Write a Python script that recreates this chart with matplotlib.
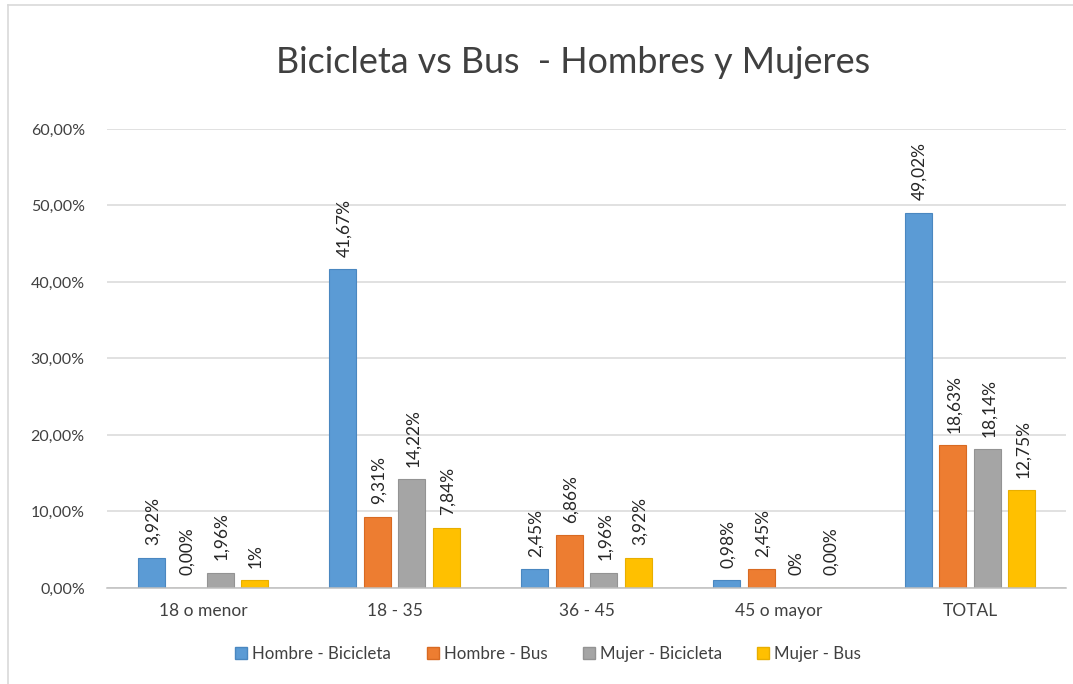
import matplotlib.pyplot as plt
import matplotlib.patches as mpatches
from matplotlib.ticker import FuncFormatter
import numpy as np

plt.rcParams['font.family'] = ['Lato', 'DejaVu Sans']

# ---------------- data ----------------
categorias = ['18 o menor', '18 - 35', '36 - 45', '45 o mayor', 'TOTAL']
series = ['Hombre - Bicicleta', 'Hombre - Bus', 'Mujer - Bicicleta', 'Mujer - Bus']
hombre_bici = [3.92, 41.67, 2.45, 0.98, 49.02]
hombre_bus = [0.00, 9.31, 6.86, 2.45, 18.63]
mujer_bici = [1.96, 14.22, 1.96, 0.00, 18.14]
mujer_bus = [1.00, 7.84, 3.92, 0.00, 12.75]
etiquetas = [
    ['3,92%', '41,67%', '2,45%', '0,98%', '49,02%'],
    ['0,00%', '9,31%', '6,86%', '2,45%', '18,63%'],
    ['1,96%', '14,22%', '1,96%', '0%', '18,14%'],
    ['1%', '7,84%', '3,92%', '0,00%', '12,75%'],
]
colores = ['#5B9BD5', '#ED7D31', '#A5A5A5', '#FFC000']
bordes = ['#4A87C0', '#D86A22', '#939393', '#E8AE00']

valores = [hombre_bici, hombre_bus, mujer_bici, mujer_bus]

fig = plt.figure(figsize=(10.73, 6.84), dpi=100)
ax = fig.add_axes([0.0997, 0.1404, 0.8938, 0.671])

# chart frame (left / top border)
fig.add_artist(plt.Line2D([8/1073, 8/1073], [0, 1 - 5/684], color='#d9d9d9', lw=1.2))
fig.add_artist(plt.Line2D([8/1073, 1], [1 - 5/684, 1 - 5/684], color='#d9d9d9', lw=1.2))

x = np.arange(len(categorias))
paso = 0.18
ancho = 0.141
for i, vals in enumerate(valores):
    pos = x + (i - 1.5) * paso
    ax.bar(pos, vals, width=ancho, color=colores[i], edgecolor=bordes[i],
           linewidth=0.8, label=series[i], zorder=3)
    for p, v, t in zip(pos, vals, etiquetas[i]):
        ax.annotate(t, (p, v), xytext=(1, 9), textcoords='offset points',
                    rotation=90, ha='center', va='bottom', fontsize=12.5,
                    color='#262626')

ax.set_xlim(-0.5, len(categorias) - 0.5)
ax.set_ylim(0, 60)
ax.set_yticks(np.arange(0, 61, 10))
ax.yaxis.set_major_formatter(FuncFormatter(lambda v, _: f'{v:.2f}%'.replace('.', ',')))
ax.set_xticks(x)
ax.set_xticklabels(categorias)
ax.tick_params(axis='both', length=0, labelcolor='#404040')
ax.tick_params(axis='y', pad=16, labelsize=11.5)
ax.tick_params(axis='x', pad=11, labelsize=12.5)
ax.grid(axis='y', color='#d9d9d9', lw=1.1, zorder=0)
for s in ['top', 'right', 'left']:
    ax.spines[s].set_visible(False)
ax.spines['bottom'].set_color('#bfbfbf')
ax.spines['bottom'].set_linewidth(1.1)
ax.spines['bottom'].set_zorder(4)

fig.text(0.534, 0.909, 'Bicicleta vs Bus  - Hombres y Mujeres', ha='center', va='center',
         fontsize=25.8, color='#404040')

handles = [mpatches.Patch(facecolor=colores[i], edgecolor=bordes[i], label=series[i])
           for i in range(4)]
fig.legend(handles=handles, loc='center', bbox_to_anchor=(0.511, 0.044), ncol=4,
           frameon=False, fontsize=12.2, handlelength=0.7, handleheight=0.7,
           handletextpad=0.3, columnspacing=2.1, labelcolor='#404040')

fig.savefig('out.png', dpi=100)
